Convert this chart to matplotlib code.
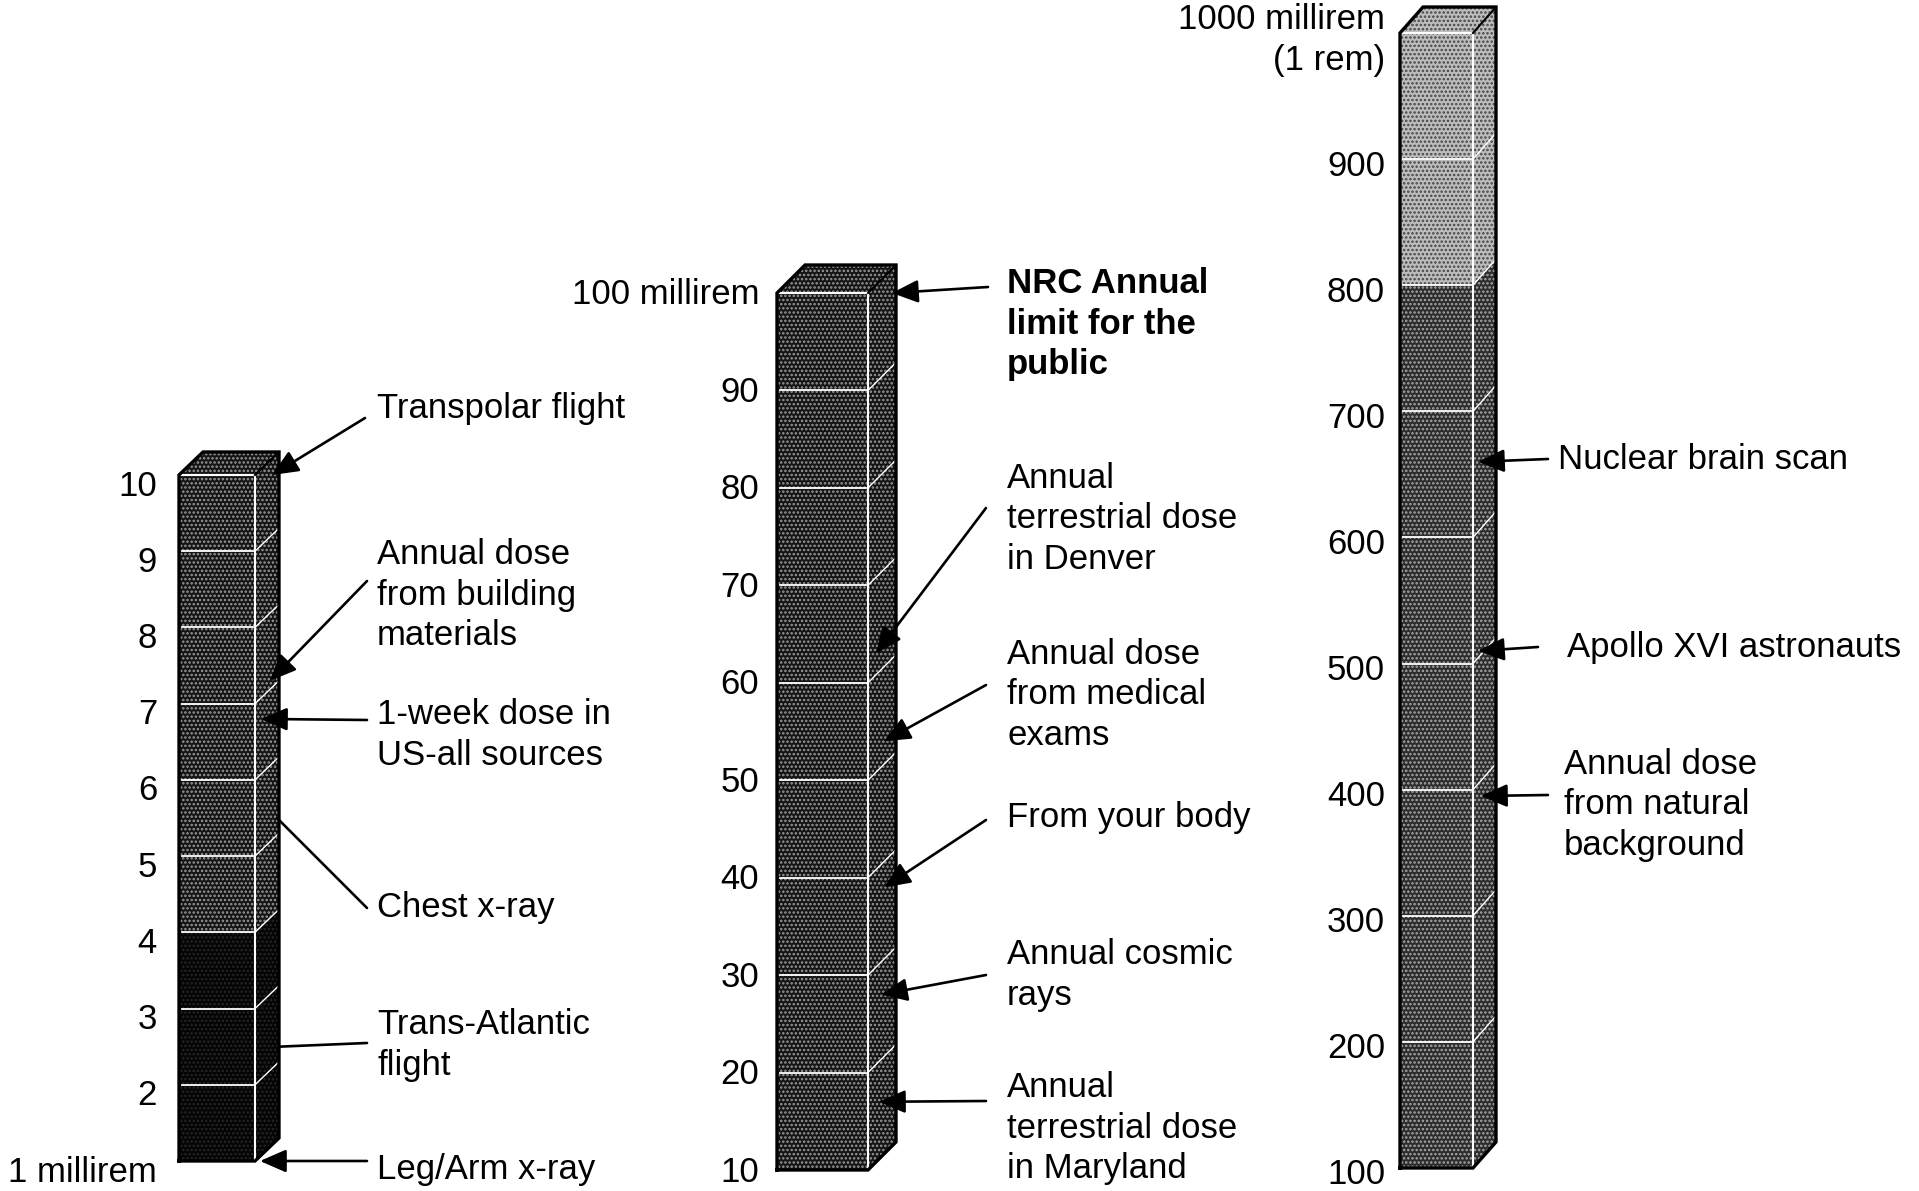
import matplotlib
matplotlib.use("Agg")
import matplotlib.pyplot as plt
import matplotlib.transforms as mtransforms
from matplotlib.patches import Polygon, Rectangle

# ---------------- data ----------------
col1_values = [1, 2, 3, 4, 5, 6, 7, 8, 9, 10]
col1_labels = ["1 millirem", "2", "3", "4", "5", "6", "7", "8", "9", "10"]
col1_annotations = ["Transpolar flight",
                    "Annual dose\nfrom building\nmaterials",
                    "1-week dose in\nUS-all sources",
                    "Chest x-ray",
                    "Trans-Atlantic\nflight",
                    "Leg/Arm x-ray"]
col1_annot_values = [10, 7.3, 6.8, 5.5, 2.5, 1]

col2_values = [10, 20, 30, 40, 50, 60, 70, 80, 90, 100]
col2_labels = ["10", "20", "30", "40", "50", "60", "70", "80", "90", "100 millirem"]
col2_annotations = ["NRC Annual\nlimit for the\npublic",
                    "Annual\nterrestrial dose\nin Denver",
                    "Annual dose\nfrom medical\nexams",
                    "From your body",
                    "Annual cosmic\nrays",
                    "Annual\nterrestrial dose\nin Maryland"]
col2_annot_values = [100, 63, 54, 39, 28, 17]

col3_values = [100, 200, 300, 400, 500, 600, 700, 800, 900, 1000]
col3_labels = ["100", "200", "300", "400", "500", "600", "700", "800", "900",
               "1000 millirem\n(1 rem)"]
col3_annotations = ["Nuclear brain scan",
                    "Apollo XVI astronauts",
                    "Annual dose\nfrom natural\nbackground"]
col3_annot_values = [660, 510, 395]

# ---------------- layout / style ----------------
W, H = 1919, 1191
plt.rcParams['font.family'] = ['Liberation Sans', 'DejaVu Sans']
plt.rcParams['hatch.linewidth'] = 1.2
FS = 25
LS = 1.30

fig = plt.figure(figsize=(W / 100, H / 100), dpi=100)
fig.patch.set_facecolor('white')
px = mtransforms.Affine2D().scale(1 / W, -1 / H).translate(0, 1) + fig.transFigure

DARK = dict(fc='#141414', hc='#9a9a9a')
BLACK = dict(fc='#040404', hc='#262626')
MID = dict(fc='#2c2c2c', hc='#a8a8a8')
LIGHT = dict(fc='#bdbdbd', hc='#454545')

columns = [
    dict(values=col1_values, labels=col1_labels, annots=col1_annotations,
         annot_values=col1_annot_values,
         x0=179, x1=255, dx=24, dy=23, pb=1161, pt=475, label_right=157,
         label_off=-11,
         shades=[BLACK] * 3 + [DARK] * 6,
         text=[(377, 408, 365, 418, 272, True, False),
               (377, 595, 367, 581, 270, True, False),
               (377, 735, 367, 720, 261, True, False),
               (377, 908, 367, 908, 277, False, False),
               (377, 1045, 367, 1043, 279, False, False),
               (377, 1169, 367, 1161, 260, True, False)]),
    dict(values=col2_values, labels=col2_labels, annots=col2_annotations,
         annot_values=col2_annot_values,
         x0=777, x1=868, dx=28, dy=28, pb=1170, pt=293, label_right=759,
         label_off=-2,
         shades=[DARK] * 9,
         text=[(1007, 324, 988, 287, 892, True, True),
               (1007, 519, 986, 508, 876, True, False),
               (1007, 695, 986, 685, 884, True, False),
               (1007, 818, 986, 820, 884, True, False),
               (1007, 975, 986, 975, 881, True, False),
               (1007, 1128, 986, 1101, 879, True, False)]),
    dict(values=col3_values, labels=col3_labels, annots=col3_annotations,
         annot_values=col3_annot_values,
         x0=1400, x1=1473, dx=23, dy=26, pb=1168, pt=33, label_right=1385,
         label_off=-7,
         shades=[MID] * 7 + [LIGHT] * 2,
         text=[(1558, 459, 1548, 459, 1478, True, False),
               (1567, 647, 1538, 647, 1478, True, False),
               (1564, 805, 1548, 795, 1481, True, False)]),
]

for col in columns:
    vals = col['values']
    vmin, vmax = vals[0], vals[-1]
    ax = fig.add_axes([0, 1 - col['pb'] / H, 1, (col['pb'] - col['pt']) / H])
    ax.set_xlim(0, W)
    ax.set_ylim(vmin, vmax)
    ax.axis('off')
    ax.patch.set_alpha(0)
    ppu = (col['pb'] - col['pt']) / (vmax - vmin)
    x0, x1, dx = col['x0'], col['x1'], col['dx']
    dyv = col['dy'] / ppu

    # segments
    for i in range(len(vals) - 1):
        v0, v1 = vals[i], vals[i + 1]
        sh = col['shades'][i]
        ax.add_patch(Rectangle((x0, v0), x1 - x0, v1 - v0, facecolor=sh['fc'],
                               edgecolor=sh['hc'], hatch='....', lw=0,
                               clip_on=False, zorder=2))
        ax.add_patch(Polygon([(x1, v0), (x1 + dx, v0 + dyv), (x1 + dx, v1 + dyv),
                              (x1, v1)], closed=True, facecolor=sh['fc'],
                             edgecolor=sh['hc'], hatch='....', lw=0,
                             clip_on=False, zorder=2))
    top_sh = col['shades'][-1]
    ax.add_patch(Polygon([(x0, vmax), (x1, vmax), (x1 + dx, vmax + dyv),
                          (x0 + dx, vmax + dyv)], closed=True,
                         facecolor=top_sh['fc'], edgecolor=top_sh['hc'],
                         hatch='....', lw=0, clip_on=False, zorder=2))
    # separators
    for v in vals[1:-1]:
        ax.plot([x0 + 3, x1 - 2], [v, v], color='white', lw=1.3,
                clip_on=False, zorder=3)
        ax.plot([x1, x1 + dx], [v, v + dyv], color='white', lw=1.0,
                clip_on=False, zorder=3)
    # edges
    ax.plot([x1, x1], [vmin, vmax], color='white', lw=1.5, clip_on=False, zorder=3)
    ax.plot([x0 + 2, x1], [vmax, vmax], color='white', lw=1.5, clip_on=False, zorder=3)
    outline = [(x0, vmin), (x0, vmax), (x0 + dx, vmax + dyv), (x1 + dx, vmax + dyv),
               (x1 + dx, vmin + dyv), (x1, vmin), (x0, vmin)]
    ax.plot([p[0] for p in outline], [p[1] for p in outline], color='black',
            lw=2.4, clip_on=False, zorder=4, solid_joinstyle='miter')
    ax.plot([x1, x1 + dx], [vmax, vmax + dyv], color='black', lw=1.5,
            clip_on=False, zorder=4)

    # tick labels
    ltr = ax.transData + mtransforms.ScaledTranslation(0, col['label_off'] / 100,
                                                        fig.dpi_scale_trans)
    for v, lab in zip(vals, col['labels']):
        ax.text(col['label_right'], v, lab, ha='right', va='center', fontsize=FS,
                transform=ltr, multialignment='right', linespacing=LS)

    # annotations
    for lab, v, spec in zip(col['annots'], col['annot_values'], col['text']):
        tx, ty, lx, ly, tipx, head, bold = spec
        fig.text(tx / W, 1 - ty / H, lab, ha='left', va='center', fontsize=FS,
                 fontweight='bold' if bold else 'normal', linespacing=LS)
        style = '-|>,head_length=0.8,head_width=0.35' if head else '-'
        ax.annotate('', xy=(tipx, v), xycoords='data',
                    xytext=(lx, ly), textcoords=px,
                    arrowprops=dict(arrowstyle=style, color='black', lw=1.9,
                                    mutation_scale=20, shrinkA=0, shrinkB=0),
                    annotation_clip=False, zorder=6)

fig.savefig('out.png', dpi=100, facecolor='white')
